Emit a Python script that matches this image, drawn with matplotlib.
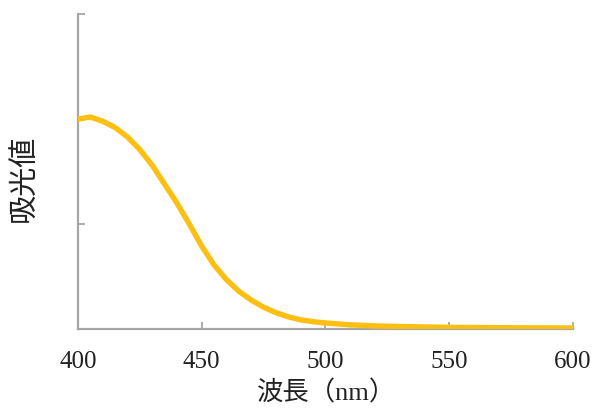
import numpy as np
import matplotlib.pyplot as plt

# absorbance spectrum
wavelength = [400, 405, 410, 415, 420, 425, 430, 435, 440, 445, 450, 455,
              460, 465, 470, 475, 480, 485, 490, 495, 500, 510, 520, 530,
              540, 550, 575, 600]
absorbance = [1.00, 1.01, 0.99, 0.96, 0.915, 0.855, 0.78, 0.69, 0.60, 0.50,
              0.395, 0.305, 0.235, 0.18, 0.138, 0.104, 0.078, 0.058, 0.044,
              0.035, 0.029, 0.02, 0.015, 0.012, 0.01, 0.008, 0.006, 0.005]
xticks = [400, 450, 500, 550, 600]
yticks = [0, 0.5, 1.0, 1.5]

fam = ['Liberation Serif', 'Noto Sans CJK JP']
plt.rcParams['font.family'] = fam

fig = plt.figure(figsize=(5.94, 4.10), dpi=100)
ax = fig.add_axes([0.1313, 0.195, 0.8333, 0.768])

ax.plot(wavelength, absorbance, color='#FCBF12', lw=3.9,
        solid_capstyle='round', solid_joinstyle='round', zorder=3)

ax.set_xlim(400, 600)
ax.set_ylim(0, 1.5)
ax.set_xticks(xticks)
ax.set_yticks(yticks)
ax.set_yticklabels([])

for s in ['top', 'right']:
    ax.spines[s].set_visible(False)
for s in ['left', 'bottom']:
    ax.spines[s].set_color('#A6A6A6')
    ax.spines[s].set_linewidth(1.6)
    ax.spines[s].set_zorder(2)

ax.tick_params(direction='in', length=5, width=1.3, color='#A6A6A6',
               labelsize=18, labelcolor='#222222', pad=15)

fig.text(0.55, 0.042, '波長（nm）', ha='center', va='center',
         fontsize=19, color='#222222', family=fam)
fig.text(0.042, 0.565, '吸光値', ha='center', va='center', rotation=90,
         fontsize=21, color='#222222', family=fam)

fig.savefig('out.png', dpi=100)
